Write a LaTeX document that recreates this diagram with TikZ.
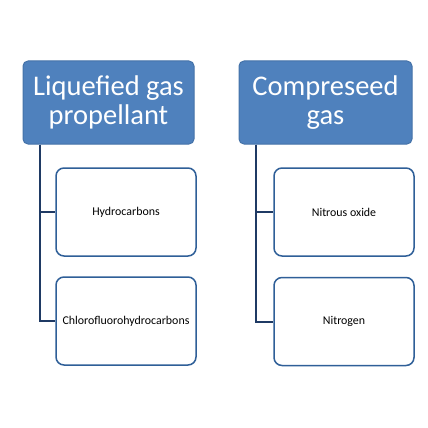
\documentclass[tikz,border=0pt]{standalone}
\usepackage{fontspec}
\setmainfont{Carlito}
\begin{document}
\begin{tikzpicture}[x=1pt,y=-1pt,
  header/.style={draw=hdrborder, line width=1pt, fill=hdrfill, rounded corners=5pt,
    minimum width=171pt, minimum height=83pt, inner sep=2pt, text=white, align=center,
    font=\fontsize{28.5}{29.5}\selectfont},
  child/.style={draw=childborder, line width=1.5pt, fill=white, rounded corners=8pt,
    minimum width=140pt, minimum height=88pt, inner sep=2pt, align=center,
    font=\fontsize{11.9}{13}\selectfont},
  conn/.style={draw=connline, line width=2pt}]
\definecolor{hdrfill}{HTML}{4F81BD}
\definecolor{hdrborder}{HTML}{4472A8}
\definecolor{childborder}{HTML}{2F5F98}
\definecolor{connline}{HTML}{1F3A64}
\useasboundingbox[fill=white] (0,0) rectangle (428,428);
\node[header] (lh) at (108.5,102.5) {Liquefied gas\\propellant};
\node[header, minimum width=173pt] (rh) at (325.5,102.5) {Compreseed\\gas};
\node[child] (lc1) at (126,212) {Hydrocarbons};
\node[child] (lc2) at (126,321) {Chlorofluorohydrocarbons};
\node[child] (rc1) at (344,212) {Nitrous oxide};
\node[child] (rc2) at (344,321.5) {Nitrogen};
\coordinate (ls) at ([xshift=17pt]lh.south west);
\coordinate (rs) at ([xshift=17pt]rh.south west);
\draw[conn] (ls) |- (lc2.west);
\draw[conn] (ls) |- (lc1.west);
\draw[conn] (rs) |- (rc2.west);
\draw[conn] (rs) |- (rc1.west);
\end{tikzpicture}
\end{document}
